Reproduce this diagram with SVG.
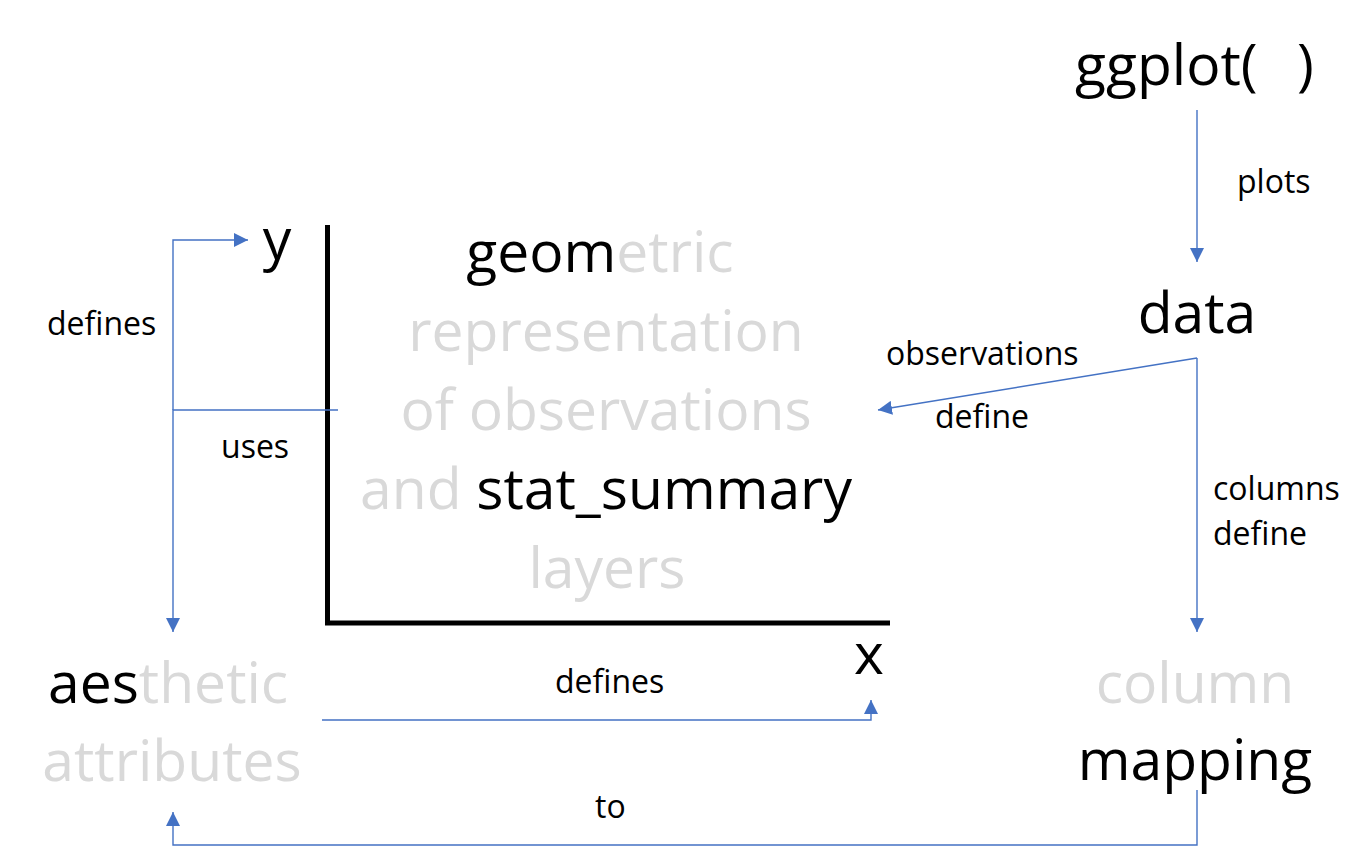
<svg xmlns="http://www.w3.org/2000/svg" width="1363" height="853" viewBox="0 0 1363 853">
<style>
text{font-family:"Open Sans","Noto Sans","DejaVu Sans",sans-serif;}
.big{font-size:57px;fill:#000;}
.sm{font-size:32px;fill:#000;}
.g{fill:#d9d9d9;}
.b{fill:#000;}
.c{fill:none;stroke:#4472c4;stroke-width:1.4;}
</style>
<defs>
<marker id="ah" viewBox="0 0 10 10" refX="10" refY="5" markerWidth="9" markerHeight="9" markerUnits="userSpaceOnUse" orient="auto">
<path d="M0,0 L10,5 L0,10 Z" fill="#4472c4"/>
</marker>
<marker id="ahb" viewBox="0 0 10 10" refX="10" refY="5" markerWidth="14" markerHeight="14" markerUnits="userSpaceOnUse" orient="auto">
<path d="M0,0 L10,5 L0,10 Z" fill="#4472c4"/>
</marker>
</defs>
<rect width="1363" height="853" fill="#fff"/>
<g id="axes">
<path d="M327.5,225 V623 H890" fill="none" stroke="#000" stroke-width="5"/>
</g>
<g id="connectors">
<path class="c" d="M1197,110 V262" marker-end="url(#ahb)"/>
<path class="c" d="M1197,358 L878,410" marker-end="url(#ahb)"/>
<path class="c" d="M1197,358 V632" marker-end="url(#ahb)"/>
<path class="c" d="M1197,790 V845 H173 V812" marker-end="url(#ahb)"/>
<path class="c" d="M322,720 H871 V700" marker-end="url(#ahb)"/>
<path class="c" d="M173,410 V240 H248" marker-end="url(#ahb)"/>
<path class="c" d="M338,410 H173 V632" marker-end="url(#ahb)"/>
</g>
<g id="ggplot"><text class="big" x="1075" y="85">ggplot(<tspan x="1297">)</tspan></text></g>
<g id="data"><text class="big" x="1197" y="333" text-anchor="middle">data</text></g>
<g id="column-mapping">
<text class="big g" x="1195" y="703" text-anchor="middle">column</text>
<text class="big" x="1195" y="780" text-anchor="middle">mapping</text>
</g>
<g id="aesthetic-attributes">
<text class="big" x="48" y="703"><tspan class="b">aes</tspan><tspan class="g">thetic</tspan></text>
<text class="big g" x="172" y="781" text-anchor="middle">attributes</text>
</g>
<g id="y-axis-label"><text class="big" x="277" y="259" text-anchor="middle">y</text></g>
<g id="x-axis-label"><text class="big" x="869" y="674" text-anchor="middle">x</text></g>
<g id="geom">
<text class="big" x="600" y="272" text-anchor="middle"><tspan class="b">geom</tspan><tspan class="g">etric</tspan></text>
<text class="big g" x="606" y="351" text-anchor="middle">representation</text>
<text class="big g" x="606" y="430" text-anchor="middle">of observations</text>
<text class="big" x="606" y="509" text-anchor="middle"><tspan class="g">and </tspan><tspan class="b">stat_summary</tspan></text>
<text class="big g" x="607" y="588" text-anchor="middle">layers</text>
</g>
<g id="labels">
<text class="sm" x="1237" y="193">plots</text>
<text class="sm" x="47" y="335">defines</text>
<text class="sm" x="886" y="365">observations</text>
<text class="sm" x="935" y="428">define</text>
<text class="sm" x="221" y="458">uses</text>
<text class="sm" x="1213" y="500">columns</text>
<text class="sm" x="1213" y="545">define</text>
<text class="sm" x="555" y="693">defines</text>
<text class="sm" x="595" y="818">to</text>
</g>
</svg>
